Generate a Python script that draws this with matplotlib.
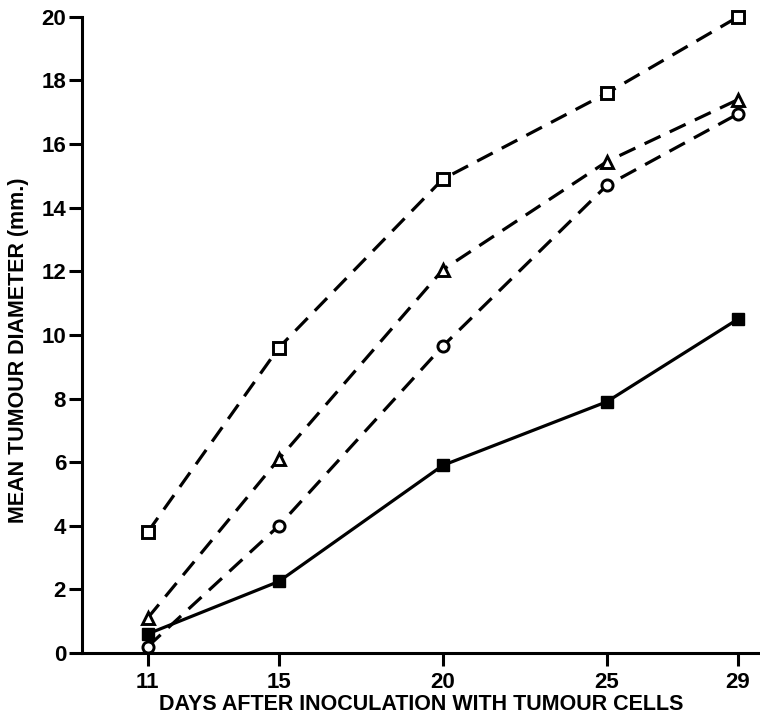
import matplotlib
matplotlib.use("Agg")
import matplotlib.pyplot as plt

days = [11, 15, 20, 25, 29]
open_square = [3.8, 9.6, 14.9, 17.6, 20.0]
open_triangle = [1.1, 6.1, 12.05, 15.45, 17.4]
open_circle = [0.2, 4.0, 9.65, 14.7, 16.95]
filled_square = [0.6, 2.25, 5.9, 7.9, 10.5]

y_ticks = [0, 2, 4, 6, 8, 10, 12, 14, 16, 18, 20]

plt.rcParams["font.family"] = ["Liberation Sans", "DejaVu Sans"]
plt.rcParams["font.weight"] = "bold"
plt.rcParams["axes.labelweight"] = "bold"

fig = plt.figure(figsize=(7.6, 7.18), dpi=100)
ax = fig.add_axes([0.108, 0.0905, 0.892, 0.886])

dash = dict(linestyle=(0, (5.5, 3.2)), linewidth=2.3, color="black",
            markerfacecolor="white", markeredgecolor="black",
            markeredgewidth=2.1, clip_on=False)

ax.plot(days, open_square, marker="s", markersize=8, **dash)
ax.plot(days, open_triangle, marker="^", markersize=8, **dash)
ax.plot(days, open_circle, marker="o", markersize=8, **dash)
ax.plot(days, filled_square, marker="s", markersize=8.5, linestyle="-",
        linewidth=2.3, color="black", clip_on=False)

ax.set_xlim(9, 29.67)
ax.set_ylim(0, 20)
ax.set_xticks(days)
ax.set_yticks(y_ticks)

ax.spines["top"].set_visible(False)
ax.spines["right"].set_visible(False)
ax.spines["left"].set_linewidth(2.2)
ax.spines["bottom"].set_linewidth(2.2)
ax.tick_params(axis="both", direction="out", length=9.5, width=2.2,
               labelsize=16, pad=4)
ax.tick_params(axis="y", pad=2)

ax.set_xlabel("DAYS AFTER INOCULATION WITH TUMOUR CELLS", fontsize=15.5,
              labelpad=1)
ax.set_ylabel("MEAN TUMOUR DIAMETER (mm.)", fontsize=15.5)
ax.yaxis.set_label_coords(-0.079, 0.476)

fig.savefig("out.png", dpi=100)
